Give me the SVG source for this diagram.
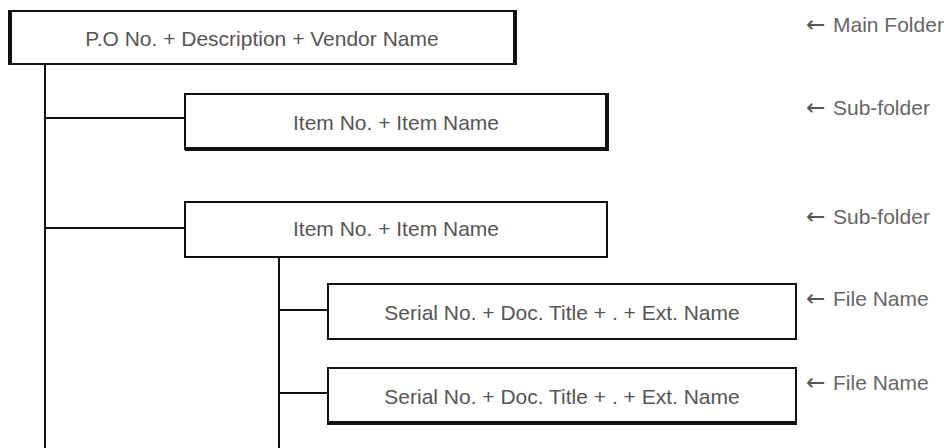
<svg xmlns="http://www.w3.org/2000/svg" width="947" height="448" viewBox="0 0 947 448">
<style>
.box{fill:#fff;stroke:#111;stroke-width:2}
.edge{stroke:#111;stroke-width:4;fill:none}
.conn{stroke:#111;stroke-width:2;fill:none}
.t{font-family:"Liberation Sans",Arial,sans-serif;font-size:21px;fill:#555;text-anchor:middle}
.lbl{font-family:"Liberation Sans",Arial,sans-serif;font-size:21px;fill:#666}
.arr{font-family:"DejaVu Sans",sans-serif;font-size:23px;fill:#555}
</style>
<rect width="947" height="448" fill="#fff"/>
<g id="connectors">
<line class="conn" x1="45" y1="64" x2="45" y2="448"/>
<line class="conn" x1="45" y1="118" x2="185" y2="118"/>
<line class="conn" x1="45" y1="228" x2="185" y2="228"/>
<line class="conn" x1="279" y1="257" x2="279" y2="448"/>
<line class="conn" x1="279" y1="310" x2="328" y2="310"/>
<line class="conn" x1="279" y1="393" x2="328" y2="393"/>
</g>
<g id="main">
<rect class="box" x="10" y="11" width="505" height="53"/>
<line class="edge" x1="10" y1="10" x2="10" y2="65"/>
<line class="edge" x1="515" y1="10" x2="515" y2="65"/>
<text class="t" x="262" y="46">P.O No. + Description + Vendor Name</text>
</g>
<g id="sub1">
<rect class="box" x="185" y="94" width="421" height="55"/>
<line class="edge" x1="185" y1="149" x2="608" y2="149"/>
<line class="edge" x1="607" y1="93" x2="607" y2="151"/>
<text class="t" x="396" y="130">Item No. + Item Name</text>
</g>
<g id="sub2">
<rect class="box" x="185" y="202" width="422" height="55"/>
<text class="t" x="396" y="236">Item No. + Item Name</text>
</g>
<g id="file1">
<rect class="box" x="328" y="284" width="468" height="55"/>
<text class="t" x="562" y="320">Serial No. + Doc. Title + . + Ext. Name</text>
</g>
<g id="file2">
<rect class="box" x="328" y="368" width="468" height="55"/>
<line class="edge" x1="327" y1="423" x2="797" y2="423"/>
<text class="t" x="562" y="404">Serial No. + Doc. Title + . + Ext. Name</text>
</g>
<g id="labels">
<text class="lbl" x="806" y="32"><tspan class="arr">←</tspan><tspan x="833">Main Folder</tspan></text>
<text class="lbl" x="806" y="115"><tspan class="arr">←</tspan><tspan x="833">Sub-folder</tspan></text>
<text class="lbl" x="806" y="224"><tspan class="arr">←</tspan><tspan x="833">Sub-folder</tspan></text>
<text class="lbl" x="806" y="306"><tspan class="arr">←</tspan><tspan x="833">File Name</tspan></text>
<text class="lbl" x="806" y="390"><tspan class="arr">←</tspan><tspan x="833">File Name</tspan></text>
</g>
</svg>
